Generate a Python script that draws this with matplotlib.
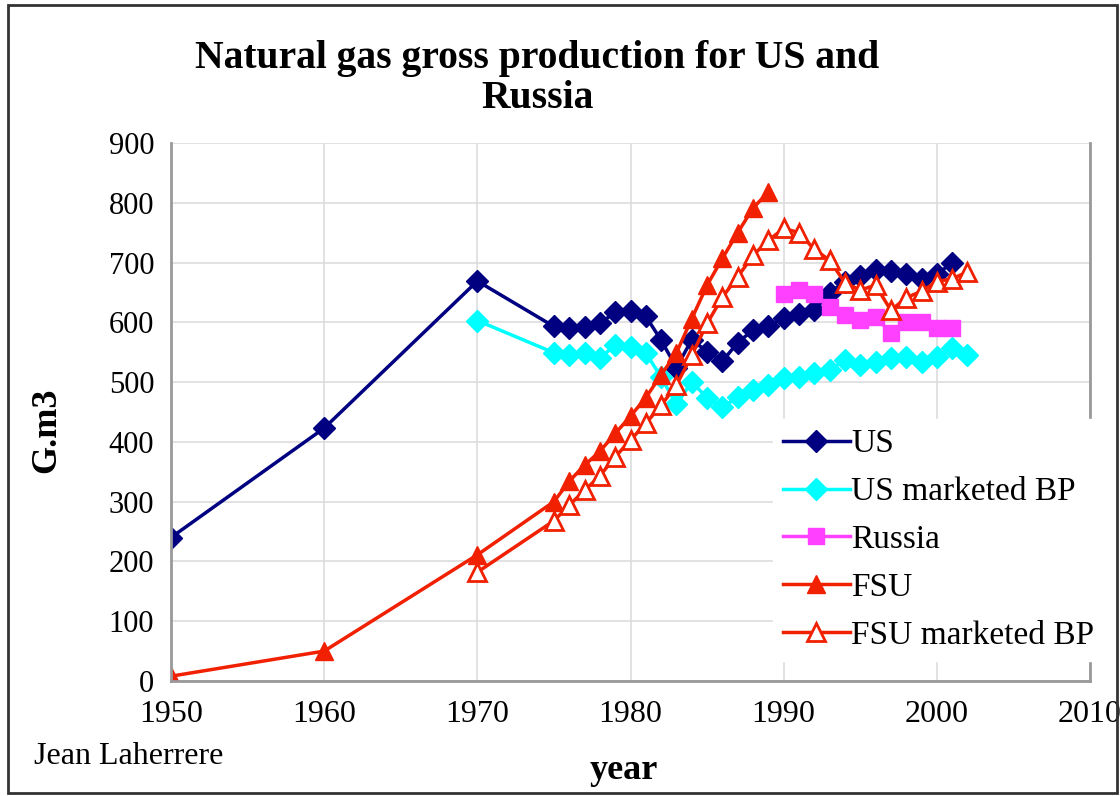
import matplotlib.pyplot as plt
from matplotlib.patches import Rectangle

plt.rcParams['font.family'] = ['Liberation Serif', 'DejaVu Serif']

# data (G.m3)
us_years = [1950, 1960, 1970, 1975, 1976, 1977, 1978, 1979, 1980, 1981, 1982,
            1983, 1984, 1985, 1986, 1987, 1988, 1989, 1990, 1991, 1992, 1993,
            1994, 1995, 1996, 1997, 1998, 1999, 2000, 2001]
us = [240, 423, 669, 593, 590, 592, 598, 617, 619, 610, 570,
      524, 571, 551, 535, 566, 587, 594, 607, 614, 620, 649,
      668, 678, 688, 686, 680, 672, 680, 700]

usbp_years = [1970] + list(range(1975, 2003))
us_bp = [603, 549, 545, 548, 540, 562, 558, 549, 508, 463, 500,
         474, 458, 475, 487, 495, 507, 509, 515, 520, 537,
         528, 533, 540, 542, 533, 542, 557, 545]

russia_years = list(range(1990, 2002))
russia = [648, 654, 648, 626, 612, 604, 609, 582, 600, 600, 590, 590]

fsu_years = [1950, 1960, 1970] + list(range(1975, 1990))
fsu = [8, 50, 211, 300, 334, 361, 384, 414, 443, 474, 512,
       549, 606, 662, 707, 750, 791, 818]

fsubp_years = [1970] + list(range(1975, 2003))
fsu_bp = [182, 268, 294, 319, 343, 375, 403, 431, 461, 495, 545,
          598, 642, 676, 712, 737, 757, 750, 722, 704, 666,
          654, 662, 620, 641, 652, 668, 673, 684]

fig = plt.figure(figsize=(11.2, 7.96), dpi=100)
ax = fig.add_axes([0.1527, 0.1445, 0.8205, 0.6759])

ax.plot(us_years, us, color='#000080', lw=2.5, marker='D', ms=11, label='US')
ax.plot(usbp_years, us_bp, color='#00ffff', lw=2.5, marker='D', ms=11,
        label='US marketed BP')
ax.plot(russia_years, russia, color='#ff40ff', lw=2.5, marker='s', ms=11,
        label='Russia')
ax.plot(fsu_years, fsu, color='#f02000', lw=2.5, marker='^', ms=13, label='FSU')
ax.plot(fsubp_years, fsu_bp, color='#f02000', lw=2.5, marker='^', ms=13,
        mfc='white', mew=2, label='FSU marketed BP')

ax.set_xlim(1950, 2010)
ax.set_ylim(0, 900)
ax.set_xticks(range(1950, 2011, 10))
ax.set_yticks(range(0, 901, 100))
ax.grid(True, color='#dddddd', lw=1.2)
ax.set_axisbelow(True)
ax.tick_params(axis='x', labelsize=23, length=0, pad=14)
ax.tick_params(axis='y', labelsize=22, length=0, pad=12)
for s in ax.spines.values():
    s.set_color('#999999')
    s.set_linewidth(2)
ax.spines['top'].set_visible(False)

leg = ax.legend(loc='upper left', bbox_to_anchor=(0.655, 0.487), fontsize=24,
                frameon=True, fancybox=False, edgecolor='white',
                handlelength=2.0, handletextpad=0.05, labelspacing=0.52,
                borderpad=0.3, borderaxespad=0)
leg.get_frame().set_alpha(1)

fig.text(0.48, 0.95, 'Natural gas gross production for US and\nRussia',
         ha='center', va='top', fontsize=28.5, fontweight='bold',
         multialignment='center', linespacing=1.1)
fig.text(0.042, 0.46, 'G.m3', rotation=90, ha='center', va='center',
         fontsize=26, fontweight='bold')
fig.text(0.557, 0.032, 'year', ha='center', va='center',
         fontsize=26, fontweight='bold')
fig.text(0.03, 0.04, 'Jean Laherrere', fontsize=23)

fig.add_artist(Rectangle((0.007, 0.004), 0.99, 0.99, transform=fig.transFigure,
                         fill=False, ec='#333333', lw=2))

fig.savefig('out.png', dpi=100)
